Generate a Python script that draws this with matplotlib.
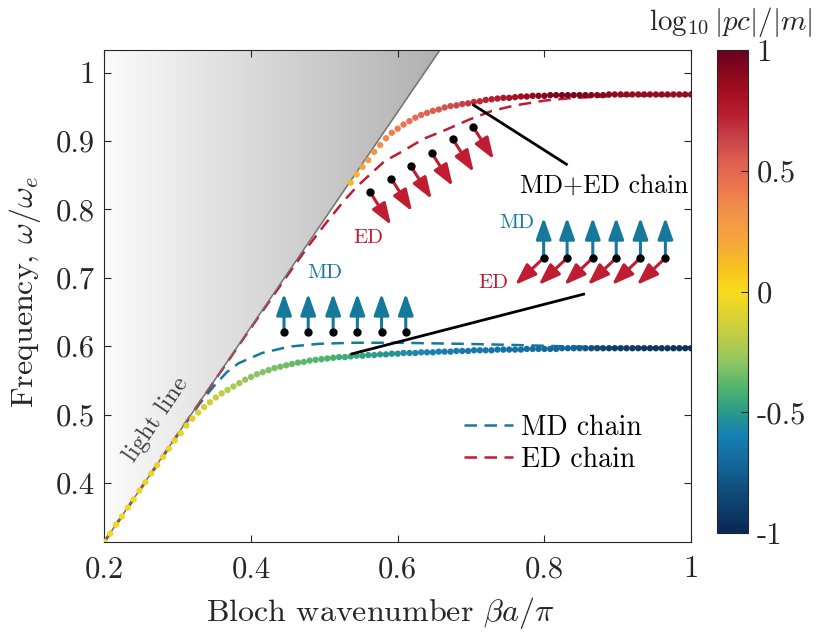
import numpy as np
import matplotlib
matplotlib.use("Agg")
import matplotlib.pyplot as plt
from matplotlib.colors import LinearSegmentedColormap
from matplotlib.patches import Polygon
from matplotlib.lines import Line2D

plt.rcParams["font.family"] = "cmr10"
plt.rcParams["mathtext.fontset"] = "cm"
plt.rcParams["axes.unicode_minus"] = False
plt.rcParams["axes.formatter.use_mathtext"] = True

# ---------------- data ----------------
# lower band of the MD+ED chain (beta a / pi from 0.2 to 1, uniform grid)
low_y = [0.314, 0.326, 0.339, 0.351, 0.364, 0.376, 0.389, 0.401, 0.414, 0.426,
         0.438, 0.450, 0.462, 0.473, 0.484, 0.494, 0.503, 0.511, 0.518, 0.525,
         0.531, 0.536, 0.541, 0.546, 0.551, 0.555, 0.559, 0.562, 0.565, 0.568,
         0.570, 0.572, 0.574, 0.576, 0.577, 0.579, 0.580, 0.581, 0.582, 0.583,
         0.584, 0.584, 0.585, 0.586, 0.586, 0.587, 0.587, 0.588, 0.588, 0.589,
         0.589, 0.590, 0.590, 0.590, 0.591, 0.591, 0.591, 0.592, 0.592, 0.592,
         0.593, 0.593, 0.593, 0.594, 0.594, 0.594, 0.594, 0.595, 0.595, 0.595,
         0.595, 0.595, 0.596, 0.596, 0.596, 0.596, 0.596, 0.596, 0.597, 0.597,
         0.597, 0.597, 0.597, 0.597, 0.597, 0.597, 0.597, 0.597, 0.597, 0.597,
         0.597, 0.597, 0.597, 0.597, 0.597, 0.597, 0.597, 0.597, 0.597, 0.597,
         0.597]
# log10 |pc|/|m| along the lower band
low_c = [-0.02, -0.02, -0.03, -0.03, -0.03, -0.04, -0.04, -0.04, -0.05, -0.05,
         -0.06, -0.06, -0.07, -0.08, -0.09, -0.10, -0.11, -0.13, -0.15, -0.17,
         -0.19, -0.21, -0.23, -0.25, -0.27, -0.29, -0.30, -0.31, -0.32, -0.33,
         -0.34, -0.35, -0.36, -0.37, -0.37, -0.38, -0.39, -0.40, -0.41, -0.42,
         -0.43, -0.44, -0.45, -0.46, -0.47, -0.48, -0.49, -0.50, -0.51, -0.52,
         -0.53, -0.54, -0.55, -0.56, -0.57, -0.58, -0.59, -0.60, -0.61, -0.61,
         -0.62, -0.62, -0.63, -0.63, -0.64, -0.64, -0.65, -0.65, -0.66, -0.66,
         -0.67, -0.67, -0.68, -0.68, -0.69, -0.69, -0.70, -0.70, -0.71, -0.72,
         -0.73, -0.75, -0.78, -0.81, -0.84, -0.86, -0.88, -0.89, -0.90, -0.91,
         -0.91, -0.92, -0.92, -0.93, -0.93, -0.93, -0.94, -0.94, -0.94, -0.94,
         -0.95]

# upper band of the MD+ED chain (beta a / pi from 0.536 to 1, uniform grid)
up_y = [0.839, 0.851, 0.862, 0.872, 0.884, 0.894, 0.904, 0.912, 0.918, 0.924,
        0.929, 0.934, 0.938, 0.941, 0.944, 0.946, 0.949, 0.951, 0.952, 0.954,
        0.955, 0.957, 0.958, 0.960, 0.961, 0.962, 0.963, 0.963, 0.964, 0.965,
        0.965, 0.966, 0.966, 0.966, 0.967, 0.967, 0.967, 0.967, 0.967, 0.967,
        0.967, 0.967, 0.967, 0.967, 0.968, 0.968, 0.968, 0.968, 0.968, 0.968,
        0.968, 0.968, 0.968, 0.968, 0.968, 0.968, 0.968, 0.968, 0.968]
up_c = [0.12, 0.17, 0.22, 0.27, 0.31, 0.34, 0.37, 0.40, 0.42, 0.44,
        0.46, 0.48, 0.50, 0.52, 0.54, 0.56, 0.58, 0.60, 0.62, 0.64,
        0.66, 0.68, 0.70, 0.72, 0.74, 0.76, 0.78, 0.80, 0.82, 0.84,
        0.86, 0.88, 0.90, 0.91, 0.93, 0.94, 0.95, 0.95, 0.95, 0.94,
        0.93, 0.92, 0.91, 0.90, 0.89, 0.88, 0.88, 0.87, 0.87, 0.87,
        0.86, 0.86, 0.86, 0.86, 0.86, 0.86, 0.86, 0.86, 0.86]

low_x = np.linspace(0.2, 1.0, len(low_y))
up_x = np.linspace(0.536, 1.0, len(up_y))

# single-dipole chains
md_x = [0.20, 0.30, 0.33, 0.349, 0.367, 0.383, 0.415, 0.453, 0.494, 0.54,
        0.60, 0.684, 0.75, 0.82, 0.90, 1.00]
md_y = [0.314, 0.470, 0.516, 0.541, 0.562, 0.575, 0.590, 0.5995, 0.6035, 0.605,
        0.605, 0.6035, 0.602, 0.600, 0.598, 0.597]
ed_x = [0.20, 0.30, 0.40, 0.45, 0.48, 0.50, 0.515, 0.528, 0.545, 0.5816,
        0.610, 0.635, 0.665, 0.697, 0.7285, 0.76, 0.80, 0.84, 0.90, 1.00]
ed_y = [0.314, 0.471, 0.627, 0.704, 0.749, 0.777, 0.797, 0.814, 0.834, 0.870,
        0.887, 0.903, 0.916, 0.931, 0.944, 0.952, 0.959, 0.963, 0.966, 0.967]

# dipole sketches (particle positions)
md_only_x = [0.445, 0.478, 0.512, 0.545, 0.578, 0.611]
md_only_y = [0.620] * 6
ed_only_x = [0.5625, 0.5912, 0.618, 0.6467, 0.6753, 0.7026]
ed_only_y = [0.825, 0.845, 0.863, 0.882, 0.9025, 0.921]
mixed_x = [0.799, 0.831, 0.866, 0.898, 0.931, 0.965]
mixed_y = [0.729] * 6

xticks = [0.2, 0.4, 0.6, 0.8, 1.0]
xticklabels = ["0.2", "0.4", "0.6", "0.8", "1"]
yticks = [0.4, 0.5, 0.6, 0.7, 0.8, 0.9, 1.0]
yticklabels = ["0.4", "0.5", "0.6", "0.7", "0.8", "0.9", "1"]
cticks = [-1, -0.5, 0, 0.5, 1]
cticklabels = ["-1", "-0.5", "0", "0.5", "1"]

# ---------------- style ----------------
MD_COL = "#16789a"
ED_COL = "#c01c32"
AX_COL = "#262626"
DASH = (5, 3)
cmap = LinearSegmentedColormap.from_list("ratio", [
    (0.00, "#0a2856"), (0.08, "#0f4a78"), (0.15, "#146aa0"), (0.20, "#1580b4"),
    (0.25, "#2a9a8a"), (0.30, "#50b46c"), (0.35, "#8cc464"), (0.40, "#b8cc48"),
    (0.45, "#dcd232"), (0.50, "#f8dc1c"), (0.55, "#f8c020"), (0.60, "#f5a83a"),
    (0.67, "#f2904a"), (0.72, "#ec7450"), (0.77, "#dc6050"), (0.82, "#c84048"),
    (0.87, "#b81c30"), (0.93, "#9a0c1c"), (1.00, "#6a0020")])

LIGHT_SLOPE = np.pi / 2          # omega/omega_e per unit of beta a/pi
XLO, XHI = 0.2, 1.0
YLO, YHI = LIGHT_SLOPE * XLO, 1.033

fig = plt.figure(figsize=(8.32, 6.32), dpi=100)
ax = fig.add_axes([0.1254, 0.1429, 0.7052, 0.7780])
cax = fig.add_axes([0.8618, 0.1566, 0.0373, 0.7642])

# light cone with horizontal grey gradient
x_top = YHI / LIGHT_SLOPE
grad = np.linspace(0, 1, 256)[None, :]
gcmap = LinearSegmentedColormap.from_list("cone", ["#fbfbfb", "#b0b0b0"])
im = ax.imshow(grad, extent=[XLO, x_top, YLO, YHI], origin="lower",
               aspect="auto", cmap=gcmap, zorder=0, interpolation="bilinear")
cone = Polygon([[XLO, YLO], [XLO, YHI], [x_top, YHI]], closed=True,
               facecolor="none", edgecolor="none", transform=ax.transData)
ax.add_patch(cone)
im.set_clip_path(cone)

# single-chain dispersion curves
ax.plot(md_x, md_y, color=MD_COL, lw=1.8, dashes=DASH, zorder=2)
ax.plot(ed_x, ed_y, color=ED_COL, lw=1.8, dashes=DASH, zorder=2)

# light line
ax.plot([XLO, x_top], [YLO, YHI], color="#707070", lw=1.1, zorder=2.5)

# coupled-chain bands coloured by dipole ratio
sc = ax.scatter(low_x, low_y, c=low_c, cmap=cmap, vmin=-1, vmax=1, s=21,
                linewidths=0, zorder=3)
ax.scatter(up_x, up_y, c=up_c, cmap=cmap, vmin=-1, vmax=1, s=21,
           linewidths=0, zorder=3)


def arrow(x0, y0, dx, dy, col):
    ax.annotate("", xy=(x0 + dx, y0 + dy), xytext=(x0, y0),
                arrowprops=dict(arrowstyle="-|>,head_length=13,head_width=4.6",
                                mutation_scale=1, color=col, lw=2.2,
                                shrinkA=0, shrinkB=0), zorder=4)


for xx, yy in zip(md_only_x, md_only_y):
    arrow(xx, yy, 0, 0.057, MD_COL)
for xx, yy in zip(ed_only_x, ed_only_y):
    arrow(xx, yy, 0.0285, -0.048, ED_COL)
for xx, yy in zip(mixed_x, mixed_y):
    arrow(xx, yy, 0, 0.059, MD_COL)
    arrow(xx, yy, -0.0390, -0.0395, ED_COL)
ax.scatter(md_only_x + ed_only_x + mixed_x, md_only_y + ed_only_y + mixed_y,
           s=36, color="black", linewidths=0, zorder=5)

ax.text(0.501, 0.707, "MD", color=MD_COL, fontsize=15, ha="center", va="center")
ax.text(0.560, 0.758, "ED", color=ED_COL, fontsize=15, ha="center", va="center")
ax.text(0.7626, 0.780, "MD", color=MD_COL, fontsize=15, ha="center", va="center")
ax.text(0.731, 0.693, "ED", color=ED_COL, fontsize=15, ha="center", va="center")

# pointers to the two bands
ax.plot([0.7034, 0.830], [0.9525, 0.866], color="black", lw=2, zorder=4)
ax.plot([0.5375, 0.8535], [0.5887, 0.676], color="black", lw=2, zorder=4)
ax.text(0.882, 0.8336, "MD+ED chain", fontsize=18.5, ha="center", va="center")

ax.text(0.2714, 0.4925, "light line", rotation=55.7, fontsize=18,
        color="#404040", ha="center", va="center", rotation_mode="anchor")

handles = [Line2D([], [], color=MD_COL, lw=1.8, dashes=DASH),
           Line2D([], [], color=ED_COL, lw=1.8, dashes=DASH)]
ax.legend(handles, ["MD chain", "ED chain"], frameon=False, fontsize=20,
          handlelength=1.75, handletextpad=0.3, labelspacing=0.2,
          loc="center left", bbox_to_anchor=(0.613, 0.1995),
          borderaxespad=0, borderpad=0)

ax.set_xlim(XLO, XHI)
ax.set_ylim(YLO, YHI)
ax.set_xticks(xticks)
ax.set_xticklabels(xticklabels)
ax.set_yticks(yticks)
ax.set_yticklabels(yticklabels)
ax.tick_params(direction="in", length=5, width=0.8, top=True, right=True,
               labelsize=22, colors=AX_COL)
ax.tick_params(axis="x", pad=10)
ax.tick_params(axis="y", pad=7)
for s in ax.spines.values():
    s.set_color(AX_COL)
    s.set_linewidth(0.8)

ax.set_xlabel(r"Bloch wavenumber $\beta a/\pi$", fontsize=23, color=AX_COL)
ax.set_ylabel(r"Frequency, $\omega/\omega_e$", fontsize=23, color=AX_COL)
ax.xaxis.set_label_coords(0.47, -0.108)
ax.yaxis.set_label_coords(-0.104, 0.508)

cb = fig.colorbar(sc, cax=cax, ticks=cticks)
cb.set_ticklabels(cticklabels)
cax.tick_params(direction="in", length=5, width=0.8, labelsize=22,
                colors=AX_COL, pad=6)
cb.outline.set_edgecolor(AX_COL)
cb.outline.set_linewidth(0.8)
fig.text(731 / 832, 1 - 22 / 632, r"$\log_{10}|pc|/|m|$", fontsize=21,
         ha="center", va="center", color=AX_COL)

fig.savefig("out.png", dpi=100)
